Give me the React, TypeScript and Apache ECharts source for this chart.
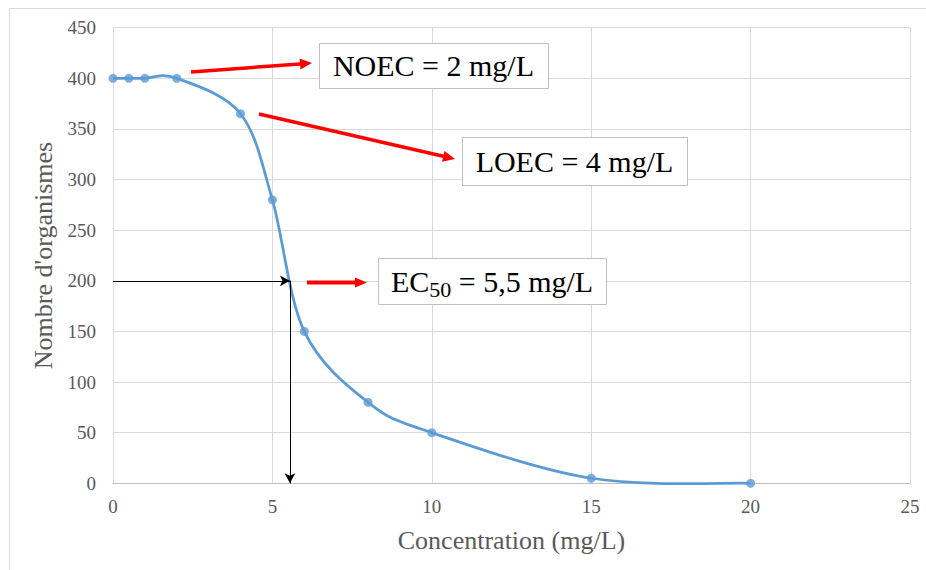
import React, { useEffect, useRef } from "react";
import * as echarts from "echarts";

// ---- data ----
const concentrations = [0, 0.5, 1, 2, 4, 5, 6, 8, 10, 15, 20];
const organisms = [400, 400, 400, 400, 365, 280, 150, 80, 50, 5, 0];
const xTicks = { min: 0, max: 25, interval: 5 };
const yTicks = { min: 0, max: 450, interval: 50 };
const ec50Level = 200;
const ec50X = 5.55;
const xTitle = "Concentration (mg/L)";
const yTitle = "Nombre d'organismes";
const noecText = "NOEC = 2 mg/L";
const loecText = "LOEC = 4 mg/L";
const ec50Rest = " = 5,5 mg/L";

const SERIF = "'Liberation Serif', 'Times New Roman', serif";
const BLUE = "#5B9BD5";

// filled arrow (shaft + head) as one polygon
function arrow(x1: number, y1: number, x2: number, y2: number, color: string, width: number, headLen: number, headW: number) {
  const dx = x2 - x1, dy = y2 - y1;
  const len = Math.sqrt(dx * dx + dy * dy);
  const ux = dx / len, uy = dy / len;
  const nx = -uy, ny = ux;
  const bx = x2 - ux * headLen, by = y2 - uy * headLen;
  const hw = width / 2, hh = headW / 2;
  return {
    type: "polygon",
    silent: true,
    z: 100,
    shape: {
      points: [
        [x1 + nx * hw, y1 + ny * hw],
        [bx + nx * hw, by + ny * hw],
        [bx + nx * hh, by + ny * hh],
        [x2, y2],
        [bx - nx * hh, by - ny * hh],
        [bx - nx * hw, by - ny * hw],
        [x1 - nx * hw, y1 - ny * hw],
      ],
    },
    style: { fill: color },
  };
}

function box(x: number, y: number, w: number, h: number, textContent: any) {
  return {
    type: "group",
    z: 100,
    children: [
      { type: "rect", z: 100, shape: { x: x + 0.5, y: y + 0.5, width: w, height: h }, style: { fill: "#ffffff", stroke: "#bfbfbf", lineWidth: 1 } },
      {
        type: "text",
        z: 101,
        x: x + w / 2,
        y: y + h / 2,
        style: { ...textContent, align: "center", verticalAlign: "middle" },
      },
    ],
  };
}

// Smooth (Catmull-Rom / Excel-like) curve through the pixel points
function smoothPath(pts: number[][]) {
  let d = `M${pts[0][0]},${pts[0][1]}`;
  for (let i = 0; i < pts.length - 1; i++) {
    const p0 = pts[i - 1] || pts[i];
    const p1 = pts[i];
    const p2 = pts[i + 1];
    const p3 = pts[i + 2] || pts[i + 1];
    const c1x = p1[0] + (p2[0] - p0[0]) / 6;
    const c1y = p1[1] + (p2[1] - p0[1]) / 6;
    const c2x = p2[0] - (p3[0] - p1[0]) / 6;
    const c2y = p2[1] - (p3[1] - p1[1]) / 6;
    d += ` C${c1x},${c1y} ${c2x},${c2y} ${p2[0]},${p2[1]}`;
  }
  return d;
}

export default function App() {
  const ref = useRef<HTMLDivElement>(null);
  useEffect(() => {
    if (!ref.current) return;
    const chart = echarts.init(ref.current, undefined, { renderer: "svg" });
    const data = concentrations.map((c, i) => [c, organisms[i]]);
    const option: any = {
      animation: false,
      backgroundColor: "#ffffff",
      grid: { left: 113, right: 16, top: 27.7, bottom: 86.7, containLabel: false },
      xAxis: {
        type: "value",
        min: xTicks.min,
        max: xTicks.max,
        interval: xTicks.interval,
        name: xTitle,
        nameLocation: "middle",
        nameGap: 44,
        nameTextStyle: { fontFamily: SERIF, fontSize: 26, color: "#595959" },
        axisLine: { show: true, lineStyle: { color: "#bfbfbf", width: 1 } },
        axisTick: { show: false },
        axisLabel: { fontFamily: SERIF, fontSize: 19, color: "#595959", margin: 14 },
        splitLine: { show: true, lineStyle: { color: "#d9d9d9", width: 1 } },
      },
      yAxis: {
        type: "value",
        min: yTicks.min,
        max: yTicks.max,
        interval: yTicks.interval,
        name: yTitle,
        nameLocation: "middle",
        nameRotate: 90,
        nameGap: 53,
        nameTextStyle: { fontFamily: SERIF, fontSize: 26, color: "#595959" },
        axisLine: { show: false },
        axisTick: { show: false },
        axisLabel: { fontFamily: SERIF, fontSize: 19, color: "#595959", margin: 17 },
        splitLine: { show: true, lineStyle: { color: "#d9d9d9", width: 1 } },
      },
      series: [
        {
          type: "custom",
          data,
          silent: true,
          clip: false,
          z: 2,
          renderItem: (params: any, api: any) => {
            if (params.dataIndex !== 0) return null;
            const pts = data.map((p) => api.coord(p));
            return {
              type: "path",
              shape: { pathData: smoothPath(pts) },
              style: { stroke: BLUE, lineWidth: 2.75, fill: "none" },
            };
          },
        },
        {
          type: "scatter",
          data,
          symbol: "circle",
          symbolSize: 9,
          itemStyle: { color: BLUE },
          z: 3,
          markLine: {
            silent: true,
            symbol: ["none", "arrow"],
            symbolSize: [8, 10],
            label: { show: false },
            lineStyle: { color: "#000000", width: 1, type: "solid" },
            emphasis: { disabled: true },
            data: [
              [{ coord: [0, ec50Level] }, { coord: [ec50X, ec50Level] }],
              [{ coord: [ec50X, ec50Level] }, { coord: [ec50X, 0] }],
            ],
          },
        },
      ],
      graphic: [
        { type: "rect", shape: { x: 9.5, y: 8.5, width: 1200, height: 1200 }, style: { fill: "none", stroke: "#d9d9d9", lineWidth: 1 }, silent: true, z: -10 },
        arrow(191, 72, 312, 63, "#ff0000", 3.5, 12, 11),
        arrow(259, 114, 455, 159, "#ff0000", 3.5, 12, 11),
        arrow(307, 282.5, 367, 282.5, "#ff0000", 4, 12, 10),
        box(319, 43, 229, 45, { text: noecText, fontFamily: SERIF, fontSize: 30, fill: "#000000" }),
        box(462, 137, 225, 48, { text: loecText, fontFamily: SERIF, fontSize: 30, fill: "#000000" }),
        box(378, 258, 228, 46, {
          text: "{a|EC}{b|50}{a|" + ec50Rest + "}",
          rich: {
            a: { fontFamily: SERIF, fontSize: 30, lineHeight: 38, fill: "#000000", color: "#000000", verticalAlign: "middle" },
            b: { fontFamily: SERIF, fontSize: 22, lineHeight: 22, fill: "#000000", color: "#000000", verticalAlign: "bottom" },
          },
          fontFamily: SERIF,
          fontSize: 30,
          fill: "#000000",
        }),
      ],
    };
    chart.setOption(option);
    return () => chart.dispose();
  }, []);
  return <div ref={ref} style={{ position: "absolute", left: 0, top: 0, width: 926, height: 570, background: "#ffffff" }} />;
}
